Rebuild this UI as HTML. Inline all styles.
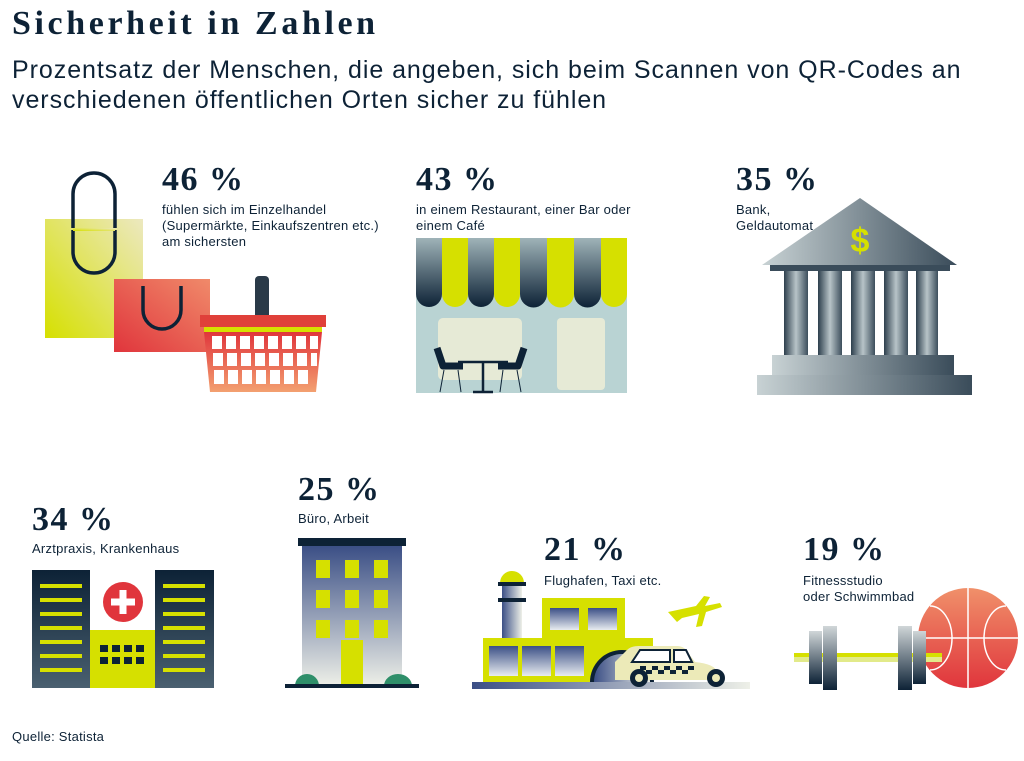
<!DOCTYPE html>
<html><head><meta charset="utf-8"><style>
html,body{margin:0;padding:0;background:#fff;}
svg{display:block;}
.s{font-family:"Liberation Serif",serif;font-weight:bold;fill:#0d2236;letter-spacing:1.5px;}
.t{font-family:"Liberation Sans",sans-serif;fill:#0d2236;letter-spacing:0.25px;}
</style></head><body>
<svg width="1024" height="761" viewBox="0 0 1024 761">
<defs>
<linearGradient id="gy" x1="0" y1="1" x2="1" y2="0"><stop offset="0" stop-color="#d6e000"/><stop offset="1" stop-color="#ece8c0"/></linearGradient>
<linearGradient id="gr" x1="0" y1="1" x2="1" y2="0"><stop offset="0" stop-color="#e0353c"/><stop offset="1" stop-color="#f08a6a"/></linearGradient>
<linearGradient id="gbk" x1="0" y1="0" x2="0" y2="1"><stop offset="0" stop-color="#e0353c"/><stop offset="1" stop-color="#f3a070"/></linearGradient>
<linearGradient id="gn" x1="0" y1="0" x2="0" y2="1"><stop offset="0" stop-color="#9fb3b8"/><stop offset="1" stop-color="#0d2236"/></linearGradient>
<linearGradient id="gcol" x1="0" y1="0" x2="1" y2="0"><stop offset="0" stop-color="#2c3e4c"/><stop offset=".5" stop-color="#b8c4c8"/><stop offset="1" stop-color="#3c4e5c"/></linearGradient>
<linearGradient id="gbank" x1="0" y1="0" x2="1" y2="0"><stop offset="0" stop-color="#c8d2d4"/><stop offset="1" stop-color="#3a4c5a"/></linearGradient>
<linearGradient id="gbld" x1="0" y1="0" x2="0" y2="1"><stop offset="0" stop-color="#3b4f86"/><stop offset="1" stop-color="#eef0e8"/></linearGradient>
<linearGradient id="gtow" x1="0" y1="0" x2="0" y2="1"><stop offset="0" stop-color="#0d2236"/><stop offset="1" stop-color="#4a6070"/></linearGradient>
<linearGradient id="gwin" x1="0" y1="0" x2="0" y2="1"><stop offset="0" stop-color="#3b4f86"/><stop offset="1" stop-color="#e8ecf0"/></linearGradient>
<linearGradient id="gw" x1="0" y1="0" x2="0" y2="1"><stop offset="0" stop-color="#d0d6d8"/><stop offset="1" stop-color="#0d2236"/></linearGradient>
<linearGradient id="gball" x1="0" y1="0" x2="0" y2="1"><stop offset="0" stop-color="#f0906a"/><stop offset="1" stop-color="#e0353c"/></linearGradient>
<linearGradient id="ggr" x1="0" y1="0" x2="1" y2="0"><stop offset="0" stop-color="#3b4f86"/><stop offset="1" stop-color="#eef0e8"/></linearGradient>
</defs>

<text x="12" y="34" font-family="Liberation Serif,serif" font-size="34" font-weight="bold" fill="#0d2236" letter-spacing="3.6">Sicherheit in Zahlen</text>
<text x="12" y="78" class="t" font-size="25" style="letter-spacing:0.95px">Prozentsatz der Menschen, die angeben, sich beim Scannen von QR-Codes an</text>
<text x="12" y="108" class="t" font-size="25" style="letter-spacing:0.95px">verschiedenen öffentlichen Orten sicher zu fühlen</text>

<!-- 1 shopping -->
<text x="162" y="190" class="s" font-size="34">46 %</text>
<text x="162" y="214" class="t" font-size="13">fühlen sich im Einzelhandel</text>
<text x="162" y="230" class="t" font-size="13">(Supermärkte, Einkaufszentren etc.)</text>
<text x="162" y="246" class="t" font-size="13">am sichersten</text>
<rect x="45" y="219" width="98" height="119" fill="url(#gy)"/>
<path d="M73 228 V194 a21 21 0 0 1 42 0 V228 M73 230 V252 a21 21 0 0 0 42 0 V230" fill="none" stroke="#0d2236" stroke-width="3.5"/>
<rect x="73" y="228" width="42" height="3" fill="url(#gy)"/>
<rect x="114" y="279" width="96" height="73" fill="url(#gr)"/>
<path d="M143 286 V310 a19 19 0 0 0 38 0 V286" fill="none" stroke="#0d2236" stroke-width="3.5"/>
<rect x="255" y="276" width="14" height="48" rx="4" fill="#2a3a48"/>
<rect x="200" y="315" width="126" height="12" fill="#e0403a"/>
<rect x="204" y="327" width="118" height="5" fill="#d6e000"/>
<path d="M204 332 H322 L316 392 H210 Z" fill="url(#gbk)"/>
<g fill="#fff">
<rect x="212" y="336" width="10" height="13"/><rect x="226" y="336" width="10" height="13"/><rect x="240" y="336" width="10" height="13"/><rect x="254" y="336" width="10" height="13"/><rect x="268" y="336" width="10" height="13"/><rect x="282" y="336" width="10" height="13"/><rect x="296" y="336" width="10" height="13"/><rect x="310" y="336" width="8" height="13"/>
<rect x="213" y="353" width="10" height="13"/><rect x="227" y="353" width="10" height="13"/><rect x="241" y="353" width="10" height="13"/><rect x="255" y="353" width="10" height="13"/><rect x="269" y="353" width="10" height="13"/><rect x="283" y="353" width="10" height="13"/><rect x="297" y="353" width="10" height="13"/><rect x="311" y="353" width="6" height="13"/>
<rect x="214" y="370" width="10" height="14"/><rect x="228" y="370" width="10" height="14"/><rect x="242" y="370" width="10" height="14"/><rect x="256" y="370" width="10" height="14"/><rect x="270" y="370" width="10" height="14"/><rect x="284" y="370" width="10" height="14"/><rect x="298" y="370" width="10" height="14"/>
</g>

<!-- 2 restaurant -->
<text x="416" y="190" class="s" font-size="34">43 %</text>
<text x="416" y="214" class="t" font-size="13">in einem Restaurant, einer Bar oder</text>
<text x="416" y="230" class="t" font-size="13">einem Café</text>
<rect x="416" y="238" width="211" height="155" fill="#b9d3d3"/>
<g>
<path d="M416 238 h26 v56 a13 13 0 0 1 -26 0Z" fill="url(#gn)"/>
<path d="M442 238 h26 v56 a13 13 0 0 1 -26 0Z" fill="#d6e000"/>
<path d="M468 238 h26 v56 a13 13 0 0 1 -26 0Z" fill="url(#gn)"/>
<path d="M494 238 h26 v56 a13 13 0 0 1 -26 0Z" fill="#d6e000"/>
<path d="M520 238 h27 v56 a13 13 0 0 1 -27 0Z" fill="url(#gn)"/>
<path d="M547 238 h27 v56 a13 13 0 0 1 -27 0Z" fill="#d6e000"/>
<path d="M574 238 h27 v56 a13 13 0 0 1 -27 0Z" fill="url(#gn)"/>
<path d="M601 238 h26 v56 a13 13 0 0 1 -26 0Z" fill="#d6e000"/>
</g>
<rect x="438" y="318" width="84" height="62" rx="5" fill="#e6ead6"/>
<rect x="557" y="318" width="48" height="72" rx="4" fill="#e6ead6"/>
<path d="M437 348 l6 18 h20" fill="none" stroke="#0d2236" stroke-width="7" stroke-linejoin="round"/>
<path d="M524 348 l-6 18 h-20" fill="none" stroke="#0d2236" stroke-width="7" stroke-linejoin="round"/>
<path d="M458 362 h50 M483 362 v30 M473 392 h20" stroke="#0d2236" stroke-width="2.5"/>
<path d="M444 370 l-4 22 M458 370 l3 22 M517 370 l4 22 M503 370 l-3 22" stroke="#0d2236" stroke-width="1"/>

<!-- 3 bank -->
<text x="736" y="190" class="s" font-size="34">35 %</text>
<text x="736" y="214" class="t" font-size="13">Bank,</text>
<text x="736" y="230" class="t" font-size="13">Geldautomat</text>
<path d="M860 198 L957 265 H762 Z" fill="url(#gbank)"/>
<text x="860" y="252" font-family="Liberation Sans,sans-serif" font-weight="bold" font-size="34" fill="#d6e000" text-anchor="middle">$</text>
<rect x="770" y="265" width="180" height="6" fill="#3a4c5a"/>
<g fill="url(#gcol)">
<rect x="784" y="271" width="24" height="84"/><rect x="818" y="271" width="24" height="84"/><rect x="851" y="271" width="24" height="84"/><rect x="884" y="271" width="24" height="84"/><rect x="916" y="271" width="22" height="84"/>
</g>
<rect x="772" y="355" width="182" height="20" fill="url(#gbank)"/>
<rect x="757" y="375" width="215" height="20" fill="url(#gbank)"/>

<!-- 4 hospital -->
<text x="32" y="530" class="s" font-size="34">34 %</text>
<text x="32" y="553" class="t" font-size="13">Arztpraxis, Krankenhaus</text>
<rect x="32" y="570" width="58" height="118" fill="url(#gtow)"/>
<rect x="155" y="570" width="59" height="118" fill="url(#gtow)"/>
<g fill="#d6e000">
<rect x="40" y="584" width="42" height="4"/><rect x="40" y="598" width="42" height="4"/><rect x="40" y="612" width="42" height="4"/><rect x="40" y="626" width="42" height="4"/><rect x="40" y="640" width="42" height="4"/><rect x="40" y="654" width="42" height="4"/><rect x="40" y="668" width="42" height="4"/>
<rect x="163" y="584" width="42" height="4"/><rect x="163" y="598" width="42" height="4"/><rect x="163" y="612" width="42" height="4"/><rect x="163" y="626" width="42" height="4"/><rect x="163" y="640" width="42" height="4"/><rect x="163" y="654" width="42" height="4"/><rect x="163" y="668" width="42" height="4"/>
<rect x="90" y="630" width="65" height="58"/>
</g>
<g fill="#0d2236"><rect x="100" y="645" width="8" height="7"/><rect x="112" y="645" width="8" height="7"/><rect x="124" y="645" width="8" height="7"/><rect x="136" y="645" width="8" height="7"/>
<rect x="100" y="657" width="8" height="7"/><rect x="112" y="657" width="8" height="7"/><rect x="124" y="657" width="8" height="7"/><rect x="136" y="657" width="8" height="7"/></g>
<circle cx="123" cy="602" r="20" fill="#e0353c"/>
<path d="M123 590 v24 M111 602 h24" stroke="#fff" stroke-width="7"/>

<!-- 5 office -->
<text x="298" y="500" class="s" font-size="34">25 %</text>
<text x="298" y="523" class="t" font-size="13">Büro, Arbeit</text>
<rect x="298" y="538" width="108" height="8" fill="#0d2236"/>
<rect x="302" y="546" width="100" height="140" fill="url(#gbld)"/>
<g fill="#d6e000">
<rect x="316" y="560" width="14" height="18"/><rect x="345" y="560" width="14" height="18"/><rect x="374" y="560" width="14" height="18"/>
<rect x="316" y="590" width="14" height="18"/><rect x="345" y="590" width="14" height="18"/><rect x="374" y="590" width="14" height="18"/>
<rect x="316" y="620" width="14" height="18"/><rect x="345" y="620" width="14" height="18"/><rect x="374" y="620" width="14" height="18"/>
<rect x="341" y="640" width="22" height="46"/>
</g>
<path d="M295 686 a12 12 0 0 1 24 0Z M384 686 a14 12 0 0 1 28 0Z" fill="#2f8f6a"/>
<rect x="285" y="684" width="134" height="4" fill="#0d2236"/>

<!-- 6 airport -->
<text x="544" y="560" class="s" font-size="34">21 %</text>
<text x="544" y="585" class="t" font-size="13">Flughafen, Taxi etc.</text>
<path d="M500 583 a12 12 0 0 1 24 0Z" fill="#d6e000"/>
<rect x="498" y="582" width="28" height="4" fill="#0d2236"/>
<rect x="502" y="586" width="20" height="60" fill="url(#ggr)"/>
<rect x="498" y="598" width="28" height="4" fill="#0d2236"/>
<rect x="542" y="598" width="83" height="40" fill="#d6e000"/>
<rect x="483" y="638" width="170" height="46" fill="#d6e000"/>
<rect x="550" y="608" width="29" height="22" fill="url(#gwin)"/><rect x="588" y="608" width="29" height="22" fill="url(#gwin)"/>
<rect x="489" y="646" width="29" height="30" fill="url(#gwin)"/><rect x="522" y="646" width="29" height="30" fill="url(#gwin)"/><rect x="555" y="646" width="29" height="30" fill="url(#gwin)"/>
<path d="M590 682 a32 32 0 0 1 64 0Z" fill="#0d2236"/>
<path d="M594 682 a28 28 0 0 1 56 0Z" fill="url(#ggr)"/>
<rect x="472" y="682" width="278" height="7" fill="url(#ggr)"/>
<path d="M668 612 l28 -6 l8 -10 l6 1 l-5 9 l15 -3 l2 4 l-16 5 l-4 14 l-6 1 l3 -13 l-17 4 l-5 4 Z" fill="#d6e000"/>
<path d="M615 662 l12 -12 q4 -4 12 -4 h38 q8 0 12 8 l6 8 q20 2 22 10 v8 h-102 Z" fill="#eceab8"/>
<path d="M640 650 h30 v12 h-38 Z M674 650 h12 l6 12 h-18 Z" fill="#fff" stroke="#0d2236" stroke-width="2"/>
<g fill="#0d2236"><rect x="640" y="666" width="6" height="4"/><rect x="652" y="666" width="6" height="4"/><rect x="664" y="666" width="6" height="4"/><rect x="676" y="666" width="6" height="4"/><rect x="688" y="666" width="6" height="4"/>
<rect x="646" y="670" width="6" height="4"/><rect x="658" y="670" width="6" height="4"/><rect x="670" y="670" width="6" height="4"/><rect x="682" y="670" width="6" height="4"/></g>
<circle cx="639" cy="678" r="9" fill="#0d2236"/><circle cx="639" cy="678" r="4" fill="#eceab8"/>
<circle cx="716" cy="678" r="9" fill="#0d2236"/><circle cx="716" cy="678" r="4" fill="#eceab8"/>

<!-- 7 gym -->
<text x="803" y="560" class="s" font-size="34">19 %</text>
<text x="803" y="585" class="t" font-size="13">Fitnessstudio</text>
<text x="803" y="601" class="t" font-size="13">oder Schwimmbad</text>
<circle cx="968" cy="638" r="50" fill="url(#gball)"/>
<path d="M918 638 h100 M968 588 v100 M930 606 a22 32 0 0 1 0 64 M1006 606 a22 32 0 0 0 0 64" fill="none" stroke="#fff" stroke-width="1.5"/>
<rect x="794" y="653" width="148" height="9" fill="#e2ea8a"/>
<rect x="794" y="653" width="148" height="4" fill="#d6e000"/>
<rect x="809" y="631" width="13" height="53" fill="url(#gw)"/>
<rect x="823" y="626" width="14" height="64" fill="url(#gw)"/>
<rect x="898" y="626" width="14" height="64" fill="url(#gw)"/>
<rect x="913" y="631" width="13" height="53" fill="url(#gw)"/>

<text x="12" y="741" class="t" font-size="13">Quelle: Statista</text>
</svg>
</body></html>
